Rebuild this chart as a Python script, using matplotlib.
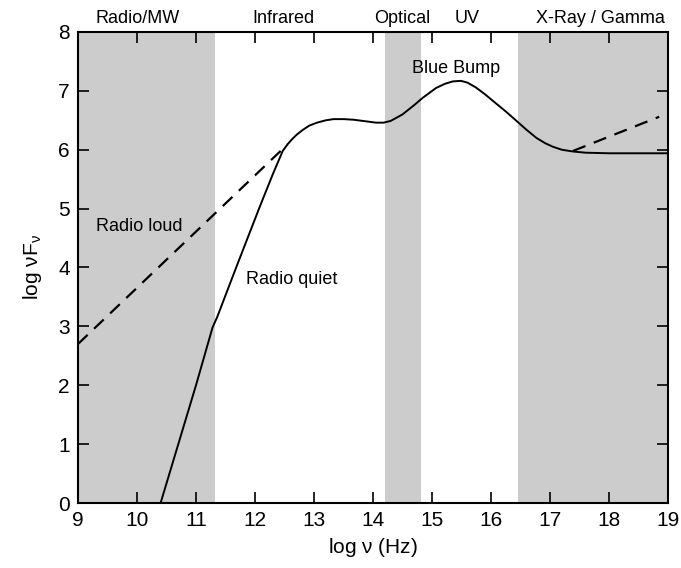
import matplotlib
matplotlib.use("Agg")
import matplotlib.pyplot as plt

plt.rcParams['font.family'] = ['Liberation Sans', 'DejaVu Sans']
plt.rcParams['mathtext.fontset'] = 'custom'
plt.rcParams['mathtext.rm'] = 'Liberation Sans'
plt.rcParams['mathtext.it'] = 'Liberation Sans:italic'

# Radio quiet spectrum (solid)
quiet_x = [10.40, 10.70, 11.00, 11.28, 11.36, 11.70, 12.08, 12.30, 12.47, 12.55,
           12.62, 12.70, 12.80, 12.92, 13.05, 13.20, 13.33, 13.50, 13.67, 13.90,
           14.05, 14.18, 14.30, 14.50, 14.70, 14.84, 15.07, 15.22, 15.35, 15.49,
           15.60, 15.74, 15.90, 16.08, 16.25, 16.42, 16.60, 16.77, 16.92, 17.05,
           17.20, 17.39, 17.60, 18.00, 19.00]
quiet_y = [0.00, 1.00, 2.00, 2.98, 3.16, 4.05, 5.03, 5.58, 5.98, 6.09,
           6.17, 6.25, 6.33, 6.41, 6.46, 6.50, 6.52, 6.52, 6.51, 6.48,
           6.46, 6.46, 6.49, 6.60, 6.76, 6.88, 7.05, 7.12, 7.16, 7.17,
           7.14, 7.06, 6.94, 6.79, 6.65, 6.50, 6.34, 6.20, 6.11, 6.05,
           6.00, 5.97, 5.95, 5.94, 5.94]

# Radio loud excess (dashed)
loud_radio_x = [9.00, 12.55]
loud_radio_y = [2.70, 6.09]
loud_xray_x = [17.39, 18.85]
loud_xray_y = [5.98, 6.56]

bands = [(9.0, 11.32), (14.2, 14.82), (16.46, 19.0)]
band_names = ['Radio/MW', 'Infrared', 'Optical', 'UV', 'X-Ray / Gamma']
band_name_x = [10.01, 12.48, 14.5, 15.6, 17.86]

fig = plt.figure(figsize=(6.81, 5.68), dpi=100)
ax = fig.add_axes([0.1145, 0.1144, 0.8665, 0.8293])

for lo, hi in bands:
    ax.axvspan(lo, hi, color='#cccccc', lw=0, zorder=0)

ax.plot(quiet_x, quiet_y, color='black', lw=1.4, zorder=3)
ax.plot(loud_radio_x, loud_radio_y, color='black', lw=1.6, ls=(0, (6, 4)), zorder=3)
ax.plot(loud_xray_x, loud_xray_y, color='black', lw=1.6, ls=(0, (6, 4)), zorder=3)

for name, x in zip(band_names, band_name_x):
    ax.text(x, 8.09, name, ha='center', va='bottom', fontsize=13)

ax.text(15.4, 7.38, 'Blue Bump', ha='center', va='center', fontsize=13)
ax.text(10.03, 4.69, 'Radio loud', ha='center', va='center', fontsize=13)
ax.text(12.62, 3.79, 'Radio quiet', ha='center', va='center', fontsize=13)

ax.set_xlim(9, 19)
ax.set_ylim(0, 8)
ax.set_xticks(range(9, 20))
ax.set_yticks(range(0, 9))
ax.tick_params(direction='in', top=True, right=True, length=8, width=1.2,
               labelsize=15, pad=6)
for s in ax.spines.values():
    s.set_linewidth(1.5)
    s.set_zorder(4)

ax.set_xlabel(r'log $\mathrm{\nu}$ (Hz)', fontsize=15, labelpad=4)
ax.set_ylabel(r'log $\mathrm{\nu F_{\nu}}$', fontsize=15, labelpad=10)

fig.savefig('out.png', dpi=100)
plt.close(fig)
